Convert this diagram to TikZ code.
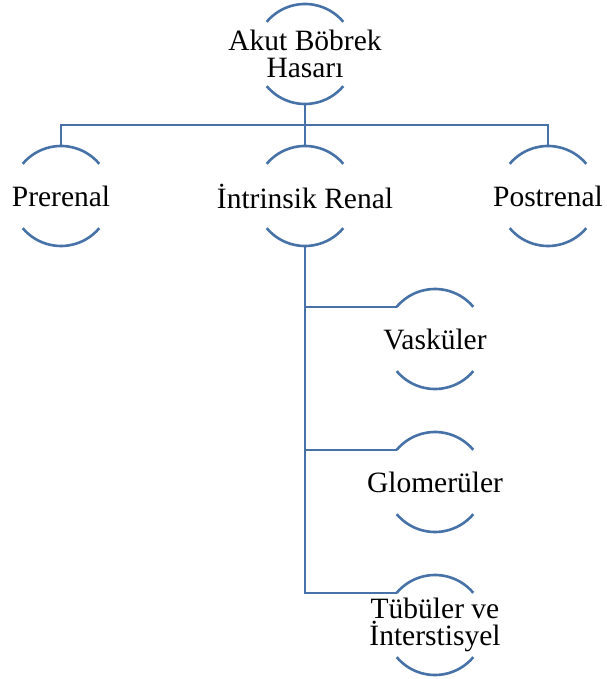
\documentclass[tikz,border=0pt]{standalone}
\usepackage{fontspec}
\setmainfont{Liberation Serif}
\usetikzlibrary{positioning,calc}
\definecolor{linkblue}{HTML}{4672A8}

\begin{document}
\begin{tikzpicture}[
  x=1pt, y=1pt,
  bubble/.style={circle, minimum size=100pt, inner sep=0pt, outer sep=0pt},
  txt/.style={font=\fontsize{29.5}{27.5}\selectfont, align=center, inner sep=0pt},
  arcline/.style={draw=linkblue, line width=2.6pt},
  link/.style={draw=linkblue, line width=2.6pt},
]
\useasboundingbox (0,0) rectangle (606,679);

\node[bubble, label={[txt]center:{Akut Böbrek\\Hasarı}}] (top) at (305,625) {};
\node[bubble, below=42pt of top, label={[txt]center:İntrinsik Renal}] (intr) {};
\node[bubble, left=144pt of intr, label={[txt]center:Prerenal}] (pre) {};
\node[bubble, right=143pt of intr, label={[txt]center:Postrenal}] (post) {};
\node[bubble, below=43pt of intr, xshift=130pt, label={[txt]center:Vasküler}] (vas) {};
\node[bubble, below=43pt of vas, label={[txt]center:Glomerüler}] (glo) {};
\node[bubble, below=43pt of glo, label={[txt]center:{Tübüler ve\\İnterstisyel}}] (tub) {};

% arcs above and below every label
\foreach \n in {top,pre,intr,post,vas,glo,tub}{
  \draw[arcline] (\n.140) arc[start angle=140, end angle=40, radius=50];
  \draw[arcline] (\n.220) arc[start angle=220, end angle=320, radius=50];
}

\coordinate (hub) at ($(top.south)!0.5!(intr.north)$);
\draw[link] (top.south) -- (intr.north);
\draw[link] (pre.north) |- (hub) -| (post.north);
\draw[link] (intr.south) |- (vas.140);
\draw[link] (intr.south) |- (glo.140);
\draw[link] (intr.south) |- (tub.140);
\end{tikzpicture}
\end{document}
